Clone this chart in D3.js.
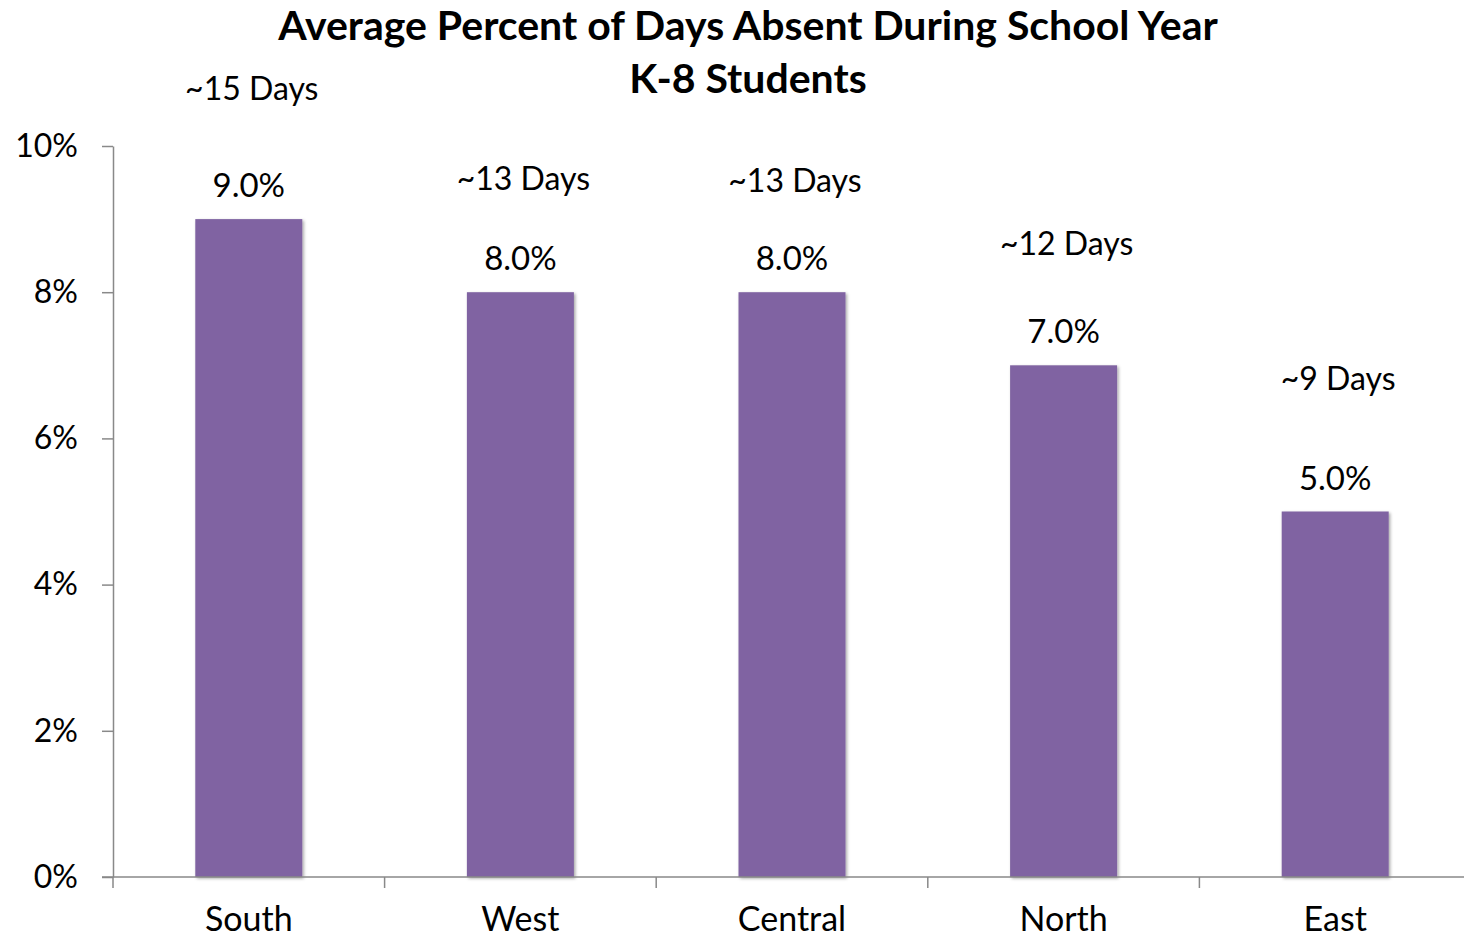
<!DOCTYPE html>
<html><head><meta charset="utf-8">
<script src="https://cdn.jsdelivr.net/npm/d3@7"></script>
<style>html,body{margin:0;padding:0;background:#fff;}svg{display:block;font-family:Lato,"Open Sans",sans-serif;}</style>
</head><body>
<svg id="chart" width="1464" height="939"></svg>
<script>
const categories = ["South", "West", "Central", "North", "East"];
const values = [9.0, 8.0, 8.0, 7.0, 5.0];
const dayLabels = ["~15 Days", "~13 Days", "~13 Days", "~12 Days", "~9 Days"];
const dayLabelLevel = [10.63, 9.40, 9.37, 8.51, 6.66];
const yTicks = [0, 2, 4, 6, 8, 10];
const titleLines = ["Average Percent of Days Absent During School Year", "K-8 Students"];

const svg = d3.select("#chart");
const W = 1464, H = 939;
const x0 = 113, x1 = 1471, yBottom = 877, yTop = 146;
const FONT = "Lato,'Open Sans',sans-serif";

const defs = svg.append("defs");
const f = defs.append("filter").attr("id","shadow").attr("x","-10%").attr("y","-10%").attr("width","130%").attr("height","130%");
f.append("feDropShadow").attr("dx",1.5).attr("dy",1.5).attr("stdDeviation",1.8).attr("flood-color","#000").attr("flood-opacity",0.35);

const x = d3.scaleBand().domain(categories).range([x0, x1]).padding(0);
const y = d3.scaleLinear().domain([0, 10]).range([yBottom, yTop]);
const barW = x.bandwidth() * 0.394;

// title
svg.append("g").selectAll("text").data(titleLines).join("text")
  .attr("x", 748).attr("y", (d,i) => 40 + i*53)
  .attr("text-anchor","middle").attr("font-weight","bold").attr("font-size", 41)
  .attr("fill","#000").text(d => d);

// bars
svg.append("g").selectAll("rect").data(categories).join("rect")
  .attr("x", d => x(d) + x.bandwidth()/2 - barW/2)
  .attr("y", (d,i) => y(values[i]))
  .attr("width", barW)
  .attr("height", (d,i) => y(0) - y(values[i]))
  .attr("fill", "#8064A2")
  .attr("filter","url(#shadow)");

// y axis
const gy = svg.append("g").attr("transform", `translate(${x0},0)`)
  .call(d3.axisLeft(y).tickValues(yTicks).tickFormat(d => d + "%").tickSize(11).tickSizeOuter(0).tickPadding(24));
gy.select(".domain").attr("stroke","#898989").attr("stroke-width",1.5);
gy.selectAll(".tick line").attr("stroke","#898989").attr("stroke-width",1.5);
gy.selectAll(".tick text").attr("font-size",32).attr("fill","#000").attr("font-family",FONT);

// x axis
const gx = svg.append("g").attr("transform", `translate(0,${yBottom})`)
  .call(d3.axisBottom(x).tickSize(0).tickSizeOuter(0).tickPadding(30));
gx.select(".domain").remove();
svg.append("line").attr("x1", x0 - 11).attr("x2", W).attr("y1", yBottom).attr("y2", yBottom)
  .attr("stroke","#898989").attr("stroke-width",1.5);
svg.append("g").selectAll("line").data(categories).join("line")
  .attr("x1", d => x(d)).attr("x2", d => x(d))
  .attr("y1", yBottom).attr("y2", yBottom + 11)
  .attr("stroke","#898989").attr("stroke-width",1.5);
gx.selectAll(".tick text").attr("font-size",34).attr("fill","#000").attr("font-family",FONT);

// value labels
svg.append("g").selectAll("text").data(categories).join("text")
  .attr("x", d => x(d) + x.bandwidth()/2)
  .attr("y", (d,i) => y(values[i]) - 22)
  .attr("text-anchor","middle").attr("font-size",33).attr("fill","#000")
  .text((d,i) => values[i].toFixed(1) + "%");

// day labels
svg.append("g").selectAll("text").data(categories).join("text")
  .attr("x", (d,i) => x(d) + x.bandwidth()/2 + 3)
  .attr("y", (d,i) => y(dayLabelLevel[i]))
  .attr("text-anchor","middle").attr("font-size",32).attr("fill","#000")
  .text((d,i) => dayLabels[i]);
</script>
</body></html>
